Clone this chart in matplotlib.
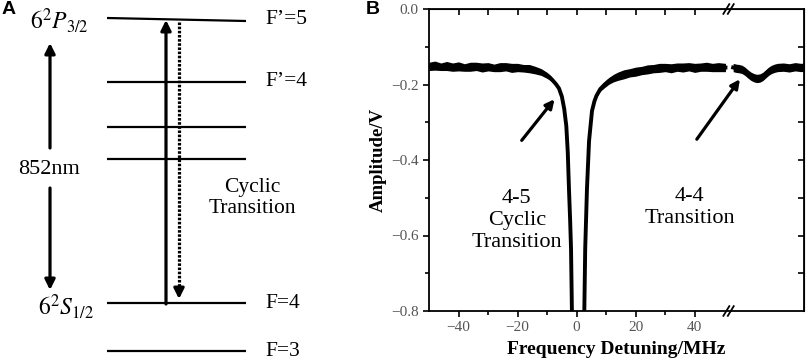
import matplotlib.pyplot as plt
import matplotlib.transforms as mtransforms
import numpy as np

plt.rcParams['font.family'] = ['Liberation Serif', 'DejaVu Serif']
plt.rcParams['mathtext.fontset'] = 'stix'

# ---- panel A: hyperfine levels (pixel-like diagram units) ----
level_names = ["F\u2019=5", "F\u2019=4", "", "", "F=4", "F=3"]
level_y_left = [18, 82, 127, 159, 303, 351]
level_y_right = [21, 82, 127, 159, 303, 351]

# ---- panel B: saturated absorption signal ----
x_main = [-50, -48, -46, -44, -42, -40, -38, -36, -34, -32, -30, -28, -26, -24,
          -22, -20, -18, -16, -14, -12, -10, -9, -8, -7, -6, -5, -4.2, -3.5,
          -3.0, -2.6, -2.2, -1.9, -1.6, -1.2, 2.2, 2.6, 2.9, 3.5, 4.2, 5.2,
          6.0, 6.7, 8, 9.5, 11, 12.5, 14, 16, 18, 20, 22, 24, 26, 28, 30, 32,
          34, 36, 38, 40, 42, 44, 46, 48, 50.4]
y_main = [-0.152, -0.150, -0.153, -0.151, -0.154, -0.152, -0.155, -0.153,
          -0.152, -0.155, -0.153, -0.156, -0.154, -0.153, -0.156, -0.155,
          -0.157, -0.158, -0.162, -0.167, -0.176, -0.182, -0.190, -0.199,
          -0.210, -0.232, -0.265, -0.31, -0.38, -0.476, -0.56, -0.635, -0.80,
          -0.95, -0.95, -0.80, -0.635, -0.476, -0.35, -0.27, -0.245, -0.23,
          -0.212, -0.20, -0.19, -0.183, -0.178, -0.173, -0.169, -0.166,
          -0.163, -0.160, -0.158, -0.156, -0.155, -0.157, -0.154, -0.155,
          -0.153, -0.156, -0.154, -0.153, -0.155, -0.154, -0.155]
spread_main = [0.011, 0.012, 0.010, 0.012, 0.011, 0.012, 0.010, 0.012, 0.011,
               0.012, 0.011, 0.010, 0.012, 0.011, 0.012, 0.011, 0.010, 0.011,
               0.010, 0.009, 0.008, 0.007, 0.006, 0.005, 0.004, 0.003, 0.0,
               0.0, 0.0, 0.0, 0.0, 0.0, 0.0, 0.0, 0.0, 0.0, 0.0, 0.0, 0.0, 0.0,
               0.003, 0.004, 0.006, 0.008, 0.009, 0.010, 0.011, 0.012, 0.011,
               0.012, 0.011, 0.012, 0.011, 0.012, 0.011, 0.012, 0.011, 0.012,
               0.011, 0.012, 0.011, 0.012, 0.011, 0.012, 0.011]

x_second = [53, 54, 55, 56, 57, 58, 59, 60, 61, 62, 63, 64, 65, 66, 67, 68, 70,
            72, 74, 76, 77]
y_second = [-0.155, -0.157, -0.158, -0.160, -0.165, -0.172, -0.178, -0.182,
            -0.184, -0.183, -0.179, -0.172, -0.165, -0.160, -0.157, -0.155,
            -0.154, -0.156, -0.153, -0.155, -0.154]
spread_second = [0.011] * len(x_second)

x_ticks = [-40, -20, 0, 20, 40]
x_minor = [-30, -10, 10, 30]
x_top_ticks = [-40, -30, -20, -10, 0, 10, 20, 30, 40]
y_ticks = [0.0, -0.2, -0.4, -0.6, -0.8]
y_minor = [-0.1, -0.3, -0.5, -0.7]
x_break = 50.8

fig = plt.figure(figsize=(8.09, 3.62), dpi=100)

# ================= panel A =================
axA = fig.add_axes([0, 0, 330 / 809, 1])
axA.set_xlim(0, 330)
axA.set_ylim(362, 0)
axA.axis('off')

for name, yl, yr in zip(level_names, level_y_left, level_y_right):
    axA.plot([107, 246], [yl, yr], color='k', lw=1.6, solid_capstyle='butt')
    if name:
        axA.text(265, (yl + yr) / 2, name, fontsize=15.5, va='center', ha='left')

axA.text(59, 21, r'$6^2P_{3/2}$', fontsize=17, ha='center', va='center')
axA.text(66, 307, r'$6^2S_{1/2}$', fontsize=17, ha='center', va='center')
axA.text(49, 170, '852nm', fontsize=16, ha='center', va='center')

arr = dict(arrowstyle='-|>', lw=2.3, color='k', mutation_scale=15,
           shrinkA=0, shrinkB=0)
axA.annotate('', xy=(50, 43), xytext=(50, 148), arrowprops=arr)
axA.annotate('', xy=(50, 290), xytext=(50, 188), arrowprops=arr)
axA.annotate('', xy=(166, 20), xytext=(166, 304), arrowprops=arr)
axA.plot([179, 179], [22, 290], color='k', lw=2.3, ls=(0, (0.8, 0.5)))
axA.annotate('', xy=(179, 299), xytext=(179, 289), arrowprops=arr)

axA.text(252, 198, 'Cyclic\nTransition', fontsize=15.5, ha='center',
         va='center', linespacing=1.15)
axA.text(2, 10, 'A', fontsize=14, fontweight='bold', family='Liberation Sans',
         ha='left', va='center')

# ================= panel B =================
axB = fig.add_axes([429 / 809, 1 - 311 / 362, 375 / 809, 302 / 362])
x_main = np.array(x_main)
y_main = np.array(y_main)
spread_main = np.array(spread_main)
x_second = np.array(x_second)
y_second = np.array(y_second)
spread_second = np.array(spread_second)

axB.fill_between(x_main, y_main - spread_main, y_main + spread_main,
                 color='k', lw=0)
axB.plot(x_main, y_main, color='k', lw=2.8)
axB.fill_between(x_second, y_second - spread_second, y_second + spread_second,
                 color='k', lw=0)
axB.plot(x_second, y_second, color='k', lw=2.8)

axB.set_xlim(-50, 77)
axB.set_ylim(-0.8, 0.0)
axB.set_xticks(x_ticks)
axB.set_xticks(x_minor, minor=True)
axB.set_yticks(y_ticks)
axB.set_yticks(y_minor, minor=True)
axB.set_xticklabels([str(v).replace('-', '\u2212') for v in x_ticks])
axB.set_yticklabels([f'{v:.1f}'.replace('-', '\u2212') for v in y_ticks])
axB.tick_params(which='major', direction='out', length=4.5, width=1.2,
                labelsize=11, labelcolor='#555555', pad=3)
axB.tick_params(which='minor', direction='out', length=3, width=1.2)
for sp in axB.spines.values():
    sp.set_linewidth(1.3)

top = axB.secondary_xaxis('top')
top.set_xticks(x_top_ticks)
top.tick_params(direction='in', length=4, width=1.2, labeltop=False)
right = axB.secondary_yaxis('right')
right.set_yticks(y_ticks[1:-1] + y_minor)
right.tick_params(direction='in', length=4, width=1.2, labelright=False)

axB.set_ylabel('Amplitude/V', fontsize=13.5, fontweight='bold', labelpad=3)
axB.set_xlabel('Frequency Detuning/MHz', fontsize=14, fontweight='bold',
               labelpad=5)

# axis break marks
trans = mtransforms.blended_transform_factory(axB.transData, axB.transAxes)
for yb in (0.0, 1.0):
    for dx in (0.0, 1.5):
        axB.plot([x_break - 1.1 + dx, x_break + 0.9 + dx],
                 [yb - 0.016, yb + 0.016], transform=trans, color='k',
                 lw=1.3, clip_on=False)

axB.annotate('', xy=(-7.5, -0.239), xytext=(-18.6, -0.348),
             arrowprops=dict(arrowstyle='-|>', lw=2.3, color='k',
                             mutation_scale=13, shrinkA=0, shrinkB=0))
axB.annotate('', xy=(55.3, -0.186), xytext=(40.7, -0.345),
             arrowprops=dict(arrowstyle='-|>', lw=2.3, color='k',
                             mutation_scale=13, shrinkA=0, shrinkB=0))
axB.text(-20.3, -0.56, '4-5\nCyclic\nTransition', fontsize=16, ha='center',
         va='center', linespacing=1.2)
axB.text(38.3, -0.525, '4-4\nTransition', fontsize=16, ha='center',
         va='center', linespacing=1.2)

fig.text(366 / 809, 1 - 10 / 362, 'B', fontsize=14, fontweight='bold',
         family='Liberation Sans', ha='left', va='center')

fig.savefig('out.png', dpi=100)
